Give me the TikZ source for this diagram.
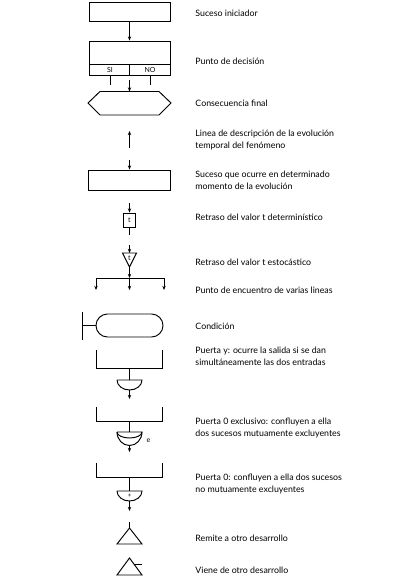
\documentclass[tikz,border=0pt]{standalone}
\usepackage{fontspec}
\setmainfont{Lato}
\usetikzlibrary{arrows.meta}
\begin{document}
\begin{tikzpicture}[x=1pt,y=-1pt,
  line width=0.95pt,
  arr/.style={-{Stealth[length=4.2pt,width=3.4pt]}},
  lbl/.style={anchor=west,inner sep=0pt,align=left,font=\fontsize{8.8}{12}\selectfont},
  boxn/.style={draw,rectangle,inner sep=0pt,minimum width=81pt,minimum height=19pt},
  small/.style={inner sep=0pt,font=\fontsize{7}{7}\selectfont}]
\useasboundingbox (0,0) rectangle (405,579);
% 1 Suceso iniciador
\node[boxn] (b1) at (129.5,11.5) {};
\node[lbl] (l1) at (195,13) {Suceso iniciador};
% 2 Punto de decision
\node[draw,rectangle,inner sep=0pt,minimum width=81pt,minimum height=34pt] (dec) at (129.5,58) {};
\coordinate (decL) at (89,64);
\coordinate (decR) at (170,64);
\draw (decL) -- (decR);
\coordinate (decM) at (129.5,64);
\draw (decM) -- (dec.south);
\node[small] (si) at (110,70) {SI};
\node[small] (no) at (150,70) {NO};
\coordinate (siT) at (110,75); \coordinate (siB) at (110,85);
\coordinate (noT) at (150,75); \coordinate (noB) at (150,85);
\draw (siT) -- (siB);
\draw (noT) -- (noB);
\draw[arr] (b1.south) -- (dec.north);
\node[lbl] (l2) at (195,61) {Punto de decisión};
% 3 Consecuencia final
\coordinate (hx1) at (88,103); \coordinate (hx2) at (100,91.5); \coordinate (hx3) at (159,91.5);
\coordinate (hx4) at (171,103); \coordinate (hx5) at (159,115); \coordinate (hx6) at (100,115);
\draw (hx1) -- (hx2) -- (hx3) -- (hx4) -- (hx5) -- (hx6) -- cycle;
\coordinate (hxT) at (129.5,91.5);
\coordinate (a3s) at (129.5,80);
\draw[arr] (a3s) -- (hxT);
\node[lbl] (l3) at (195,103) {Consecuencia final};
% 4 Linea
\coordinate (a4s) at (129.5,148); \coordinate (a4e) at (129.5,131);
\draw[arr] (a4s) -- (a4e);
\node[lbl] (l4) at (195,140) {Linea de descripción de la evolución\\temporal del fenómeno};
% 5 Suceso que ocurre
\node[boxn,minimum height=20pt,minimum width=82pt] (b5) at (129.5,180) {};
\coordinate (a5s) at (129.5,160);
\draw[arr] (a5s) -- (b5.north);
\node[lbl] (l5) at (195,180) {Suceso que ocurre en determinado\\momento de la evolución};
% 6 Retraso determinista
\node[draw,rectangle,inner sep=0pt,minimum width=12pt,minimum height=14pt,font=\fontsize{7}{7}\selectfont] (tb) at (129.5,220) {t};
\coordinate (a6s) at (129.5,203); \coordinate (a6e) at (129.5,235);
\draw[arr] (a6s) -- (tb.north);
\draw (tb.south) -- (a6e);
\node[lbl] (l6) at (195,217) {Retraso del valor t determinístico};
% 7 Retraso estocastico
\coordinate (trL) at (122.5,253); \coordinate (trR) at (136.5,253); \coordinate (trA) at (129.5,267);
\coordinate (trT) at (129.5,253);
\draw (trL) -- (trR) -- (trA) -- cycle;
\node[small] (tt) at (129.5,258) {t};
\coordinate (a7s) at (129.5,245);
\draw[arr] (a7s) -- (trT);
\coordinate (hm) at (129.5,278);
\draw[arr] (trA) -- (hm);
\node[lbl] (l7) at (195,262) {Retraso del valor t estocástico};
% 8 Punto de encuentro
\coordinate (hl) at (96,278); \coordinate (hr) at (164,278);
\coordinate (dl) at (96,290); \coordinate (dm) at (129.5,290); \coordinate (dr) at (164,290);
\draw (hl) -- (hr);
\draw[arr] (hl) -- (dl);
\draw[arr] (hm) -- (dm);
\draw[arr] (hr) -- (dr);
\node[lbl] (l8) at (195,290) {Punto de encuentro de varias lineas};
% 9 Condicion
\node[draw,rectangle,rounded corners=11.5pt,inner sep=0pt,minimum width=67pt,minimum height=23pt] (cond) at (129.5,325.5) {};
\coordinate (cbT) at (82,312); \coordinate (cbB) at (82,340); \coordinate (cbM) at (82,325.5);
\draw (cbT) -- (cbB);
\draw (cbM) -- (cond.west);
\node[lbl] (l9) at (195,326) {Condición};
% 10 Puerta y
\coordinate (p1a) at (96,350); \coordinate (p1b) at (96,368); \coordinate (p1c) at (162,368); \coordinate (p1d) at (162,350);
\draw (p1a) -- (p1b) -- (p1c) -- (p1d);
\coordinate (p1m) at (129.5,368);
\coordinate (g1L) at (117,380); \coordinate (g1R) at (142,380); \coordinate (g1T) at (129.5,380);
\coordinate (g1B) at (129.5,390); \coordinate (g1E) at (129.5,399);
\draw (p1m) -- (g1T);
\draw (g1L) -- (g1R) arc[start angle=0,end angle=-180,x radius=12.5pt,y radius=10pt];
\draw[arr] (g1B) -- (g1E);
\node[lbl] (l10) at (195,356) {Puerta y: ocurre la salida si se dan\\simultáneamente las dos entradas};
% 11 Puerta 0 exclusivo
\coordinate (p2a) at (96,407); \coordinate (p2b) at (96,421); \coordinate (p2c) at (162,421); \coordinate (p2d) at (162,407);
\draw (p2a) -- (p2b) -- (p2c) -- (p2d);
\coordinate (p2m) at (129.5,421);
\coordinate (g2L) at (117,432); \coordinate (g2R) at (142,432); \coordinate (g2T) at (129.5,432);
\coordinate (g2B) at (129.5,446); \coordinate (g2E) at (129.5,452);
\draw (p2m) -- (g2T);
\draw (g2L) -- (g2R) arc[start angle=0,end angle=-180,x radius=12.5pt,y radius=13.5pt];
\draw (g2R) arc[start angle=0,end angle=-180,x radius=12.5pt,y radius=6pt];
\draw[arr] (g2B) -- (g2E);
\node[small] (ee) at (148.5,441) {e};
\node[lbl] (l11) at (195,428) {Puerta 0 exclusivo: confluyen a ella\\dos sucesos mutuamente excluyentes};
% 12 Puerta 0
\coordinate (p3a) at (96,463); \coordinate (p3b) at (96,477); \coordinate (p3c) at (162,477); \coordinate (p3d) at (162,463);
\draw (p3a) -- (p3b) -- (p3c) -- (p3d);
\coordinate (p3m) at (129.5,477);
\coordinate (g3L) at (117,491); \coordinate (g3R) at (142,491); \coordinate (g3T) at (129.5,491);
\coordinate (g3B) at (129.5,501); \coordinate (g3E) at (129.5,511);
\draw (p3m) -- (g3T);
\draw (g3L) -- (g3R) arc[start angle=0,end angle=-180,x radius=12.5pt,y radius=10pt];
\node[small,font=\fontsize{6}{6}\selectfont] (pl) at (129.5,495.5) {+};
\draw[arr] (g3B) -- (g3E);
\node[lbl] (l12) at (195,484) {Puerta 0: confluyen a ella dos sucesos\\no mutuamente excluyentes};
% 13 Remite
\coordinate (r1) at (129.5,522); \coordinate (rA) at (129.5,528); \coordinate (rL) at (117,544); \coordinate (rR) at (142,544);
\draw (r1) -- (rA);
\draw (rA) -- (rR) -- (rL) -- cycle;
\node[lbl] (l13) at (195,538) {Remite a otro desarrollo};
% 14 Viene
\coordinate (vA) at (129.5,558); \coordinate (vL) at (117,575); \coordinate (vR) at (142,575);
\draw (vA) -- (vR) -- (vL) -- cycle;
\coordinate (vs) at (133.9,564);
\coordinate (ve) at (142,564);
\draw (vs) -- (ve);
\node[lbl] (l14) at (195,570) {Viene de otro desarrollo};
\end{tikzpicture}
\end{document}
